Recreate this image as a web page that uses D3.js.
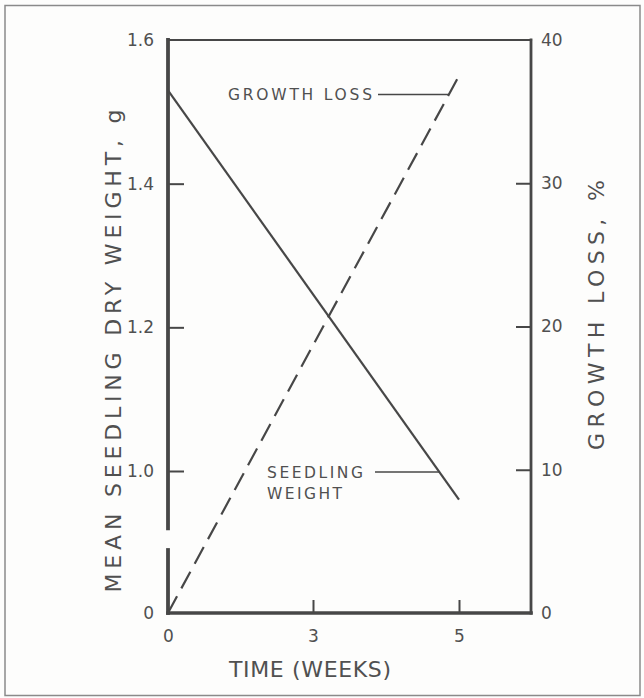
<!DOCTYPE html>
<html lang="en">
<head>
    <meta charset="UTF-8">
    <script src="https://cdn.jsdelivr.net/npm/d3@7/dist/d3.min.js"></script>
    <title>Seedling weight and growth loss</title>
    <style>
        body { margin: 0; background: #fdfdfc; }
        text { font-family: 'DejaVu Sans', sans-serif; fill: #505050; }
    </style>
</head>
<body>
    <svg width="644" height="698"></svg>
    <script>
        // data
        const weeks = [0, 5];
        const seedlingWeight = [1.53, 0.96];   // g, left axis
        const growthLoss = [0, 37.5];           // %, right axis

        const xTicks = [0, 3, 5];
        const leftTicks = [0, 1.0, 1.2, 1.4, 1.6];
        const leftTickLabels = ['0', '1.0', '1.2', '1.4', '1.6'];
        const rightTicks = [0, 10, 20, 30, 40];

        // plot box
        const box = { left: 168, right: 531, top: 40, bottom: 613 };
        const ink = '#474747';

        const svg = d3.select('svg');

        // scanned page frame
        svg.append('rect')
            .attr('x', 5).attr('y', 5.5)
            .attr('width', 635).attr('height', 690)
            .attr('fill', '#fdfdfc')
            .attr('stroke', '#8a8a8a')
            .attr('stroke-width', 1.5);

        // the time axis ticks are evenly spaced although labelled 0, 3, 5
        const x = d3.scaleLinear()
            .domain([0, 3, 5, 6])
            .range([box.left, 313, 459, box.right]);

        // left axis is broken between 0 and 1.0
        const yLin = d3.scaleLinear().domain([1.0, 1.6]).range([471, box.top]);
        const yLeft = d3.scaleLinear()
            .domain([0, 0.88, 1.6])
            .range([box.bottom, yLin(0.88), box.top]);
        const axisBreak = [0.89, 0.92];

        const yRight = d3.scaleLinear()
            .domain([0, 40])
            .range([box.bottom, box.top]);

        // axes (ticks point inward)
        const gx = svg.append('g')
            .attr('transform', `translate(0,${box.bottom})`)
            .call(d3.axisBottom(x).tickValues(xTicks).tickSize(-13).tickSizeOuter(0).tickPadding(14).tickFormat(d3.format('d')));
        const gl = svg.append('g')
            .attr('transform', `translate(${box.left},0)`)
            .call(d3.axisLeft(yLeft).tickValues(leftTicks).tickSize(-16).tickSizeOuter(0).tickPadding(14)
                .tickFormat((d, i) => leftTickLabels[i]));
        const gr = svg.append('g')
            .attr('transform', `translate(${box.right},0)`)
            .call(d3.axisRight(yRight).tickValues(rightTicks).tickSize(-15).tickSizeOuter(0).tickPadding(10));

        [gx, gl, gr].forEach(g => {
            g.select('.domain').remove();
            g.selectAll('.tick line').attr('stroke', ink).attr('stroke-width', 2);
            g.selectAll('.tick text').attr('font-size', 17).attr('fill', '#555');
        });
        // corner ticks are hidden by the frame lines
        gx.selectAll('.tick line').filter(d => d === 0).remove();
        gl.selectAll('.tick line').filter(d => d === 0 || d === 1.6).remove();
        gr.selectAll('.tick line').filter(d => d === 0 || d === 40).remove();
        gx.selectAll('.tick text').attr('dy', '0.9em');

        // axis lines
        const axisLine = (x1, y1, x2, y2, w) => svg.append('line')
            .attr('x1', x1).attr('y1', y1).attr('x2', x2).attr('y2', y2)
            .attr('stroke', ink).attr('stroke-width', w).attr('stroke-linecap', 'square');
        axisLine(box.left, box.top, box.right, box.top, 2.2);
        axisLine(box.right, box.top, box.right, box.bottom, 2.8);
        axisLine(box.left, box.bottom, box.right, box.bottom, 3.6);
        axisLine(box.left, box.top, box.left, yLeft(axisBreak[1]), 3.8);
        axisLine(box.left, yLeft(axisBreak[0]), box.left, box.bottom, 3.8);

        // series
        const weightLine = d3.line()
            .x((d, i) => x(weeks[i]))
            .y(d => yLeft(d));
        const lossLine = d3.line()
            .x((d, i) => x(weeks[i]))
            .y(d => yRight(d));

        svg.append('path')
            .attr('d', weightLine(seedlingWeight))
            .attr('fill', 'none').attr('stroke', ink).attr('stroke-width', 2.2);
        svg.append('path')
            .attr('d', lossLine(growthLoss))
            .attr('fill', 'none').attr('stroke', ink).attr('stroke-width', 2.2)
            .attr('stroke-dasharray', '19,9');

        // point on a drawn segment at a given pixel height
        function atHeight(p0, p1, py) {
            const t = (py - p0[1]) / (p1[1] - p0[1]);
            return p0[0] + t * (p1[0] - p0[0]);
        }

        // labels with leader lines
        const lossY = yRight(36.2);
        const lossX = atHeight([x(weeks[0]), yRight(growthLoss[0])], [x(weeks[1]), yRight(growthLoss[1])], lossY);
        svg.append('text')
            .attr('x', 228).attr('y', lossY + 6)
            .attr('font-size', 15.5)
            .attr('textLength', 144).attr('lengthAdjust', 'spacing')
            .text('GROWTH LOSS');
        axisLine(378, lossY, lossX, lossY, 1.6).attr('stroke-linecap', 'butt');

        const weightY = yLeft(1.0) + 1;
        const weightX = atHeight([x(weeks[0]), yLeft(seedlingWeight[0])], [x(weeks[1]), yLeft(seedlingWeight[1])], weightY);
        svg.append('text')
            .attr('x', 267).attr('y', weightY + 6)
            .attr('font-size', 15.5)
            .attr('textLength', 96).attr('lengthAdjust', 'spacing')
            .text('SEEDLING');
        svg.append('text')
            .attr('x', 267).attr('y', weightY + 27)
            .attr('font-size', 15.5)
            .attr('textLength', 75).attr('lengthAdjust', 'spacing')
            .text('WEIGHT');
        axisLine(375, weightY, weightX, weightY, 1.6).attr('stroke-linecap', 'butt');

        // axis titles
        svg.append('text')
            .attr('transform', 'translate(113,351) rotate(-90)')
            .attr('text-anchor', 'middle').attr('dominant-baseline', 'central')
            .attr('font-size', 22)
            .attr('textLength', 483).attr('lengthAdjust', 'spacing')
            .text('MEAN SEEDLING DRY WEIGHT, g');
        svg.append('text')
            .attr('transform', 'translate(596,315) rotate(-90)')
            .attr('text-anchor', 'middle').attr('dominant-baseline', 'central')
            .attr('font-size', 22)
            .attr('textLength', 270).attr('lengthAdjust', 'spacing')
            .text('GROWTH LOSS, %');
        svg.append('text')
            .attr('x', 310).attr('y', 677)
            .attr('text-anchor', 'middle')
            .attr('font-size', 22)
            .attr('textLength', 162).attr('lengthAdjust', 'spacing')
            .text('TIME (WEEKS)');
    </script>
</body>
</html>
